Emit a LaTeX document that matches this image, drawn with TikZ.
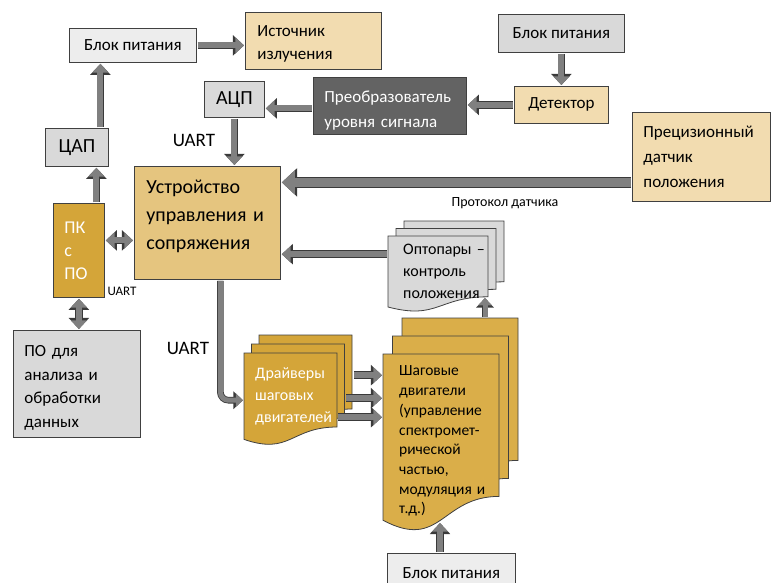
\documentclass[tikz,border=0pt]{standalone}
\usepackage{fontspec}
\setmainfont{Carlito}
\usetikzlibrary{arrows.meta}

\definecolor{boxline}{HTML}{404040}
\definecolor{grayA}{HTML}{EDEDED}
\definecolor{grayB}{HTML}{D9D9D9}
\definecolor{darkbox}{HTML}{636363}
\definecolor{sand}{HTML}{F2DCB0}
\definecolor{devcol}{HTML}{E5C57F}
\definecolor{gold}{HTML}{D4A539}
\definecolor{goldB}{HTML}{DAAE49}
\definecolor{arrfill}{HTML}{808080}
\definecolor{arrline}{HTML}{3A3A3A}

\tikzset{
  box/.style={draw=boxline, line width=0.8pt, inner ysep=0pt, align=left, anchor=north west},
  fs/.style 2 args={font=\fontsize{#1}{#2}\selectfont},
  blk/.style={draw=arrfill, line width=#1, >={Triangle[length=0pt 1.45, width=0pt 2.6]},
    shorten <=1pt, shorten >=1pt,
    preaction={draw=arrline, line width=#1+1.6pt}},
  blk/.default=6pt,
}

% one page of a document shape: x, y, width, height, fill
\newcommand{\docpage}[5]{%
  \filldraw[fill=#5, draw=boxline, line width=0.8pt]
    (#1,#2) -- ({#1+#3},#2) -- ({#1+#3},{#2+0.8*#4})
    .. controls ({#1+0.5*#3},{#2+0.8*#4}) and ({#1+0.5*#3},{#2+1.107*#4}) ..
    (#1,{#2+0.934*#4}) -- cycle;}
% three stacked pages: x, y, width, height, dx, dy, fill
\newcommand{\multidoc}[7]{%
  \docpage{#1+2*#5}{#2-2*#6}{#3}{#4}{#7}
  \docpage{#1+#5}{#2-#6}{#3}{#4}{#7}
  \docpage{#1}{#2}{#3}{#4}{#7}}

\begin{document}
\begin{tikzpicture}[x=1pt, y=-1pt]
  \useasboundingbox (0,0) rectangle (771,582);
  \fill[white] (0,0) rectangle (771,582);
  \clip (0,0) rectangle (771,582);

  % top row
  \node[box, fill=grayA, minimum width=127, minimum height=34, align=center, fs={17}{20}] (bpA) at (69,28) {Блок питания};
  \node[box, fill=sand, minimum width=136, minimum height=57, text width=112, inner xsep=12, fs={17}{23}] (src) at (245,12) {\rule{0pt}{17pt}Источник\\излучения};
  \node[box, fill=grayB, minimum width=126, minimum height=38, align=center, fs={17}{20}] (bpB) at (498,14) {Блок питания};
  \node[box, fill=grayB, minimum width=60, minimum height=36, align=center, fs={20}{24}] (adc) at (204,81) {АЦП};
  \node[box, fill=darkbox, text=white, minimum width=153, minimum height=57, text width=131, inner xsep=11, fs={17}{25}] (conv) at (313,77) {\rule{0pt}{21pt}Преобразователь\\уровня сигнала};
  \node[box, fill=sand, minimum width=94, minimum height=37, align=center, fs={17}{20}] (det) at (514,86) {Детектор};

  % middle
  \node[box, fill=grayB, minimum width=63, minimum height=38, align=center, fs={20}{24}] (dac) at (45,128) {ЦАП};
  \node[box, fill=devcol, minimum width=146, minimum height=113, text width=122, inner xsep=12, fs={20}{28}] (dev) at (134,166) {Устройство\\управления и\\сопряжения\rule[-17pt]{0pt}{0pt}};
  \node[box, fill=sand, minimum width=138, minimum height=89, text width=116, inner xsep=11, fs={17}{25}] (sens) at (632,112) {Прецизионный\\датчик\\положения};
  \node[box, fill=gold, text=white, minimum width=51, minimum height=94, text width=29, inner xsep=11, fs={18}{23}] (pc) at (53,203) {ПК\\с\\ПО};
  \node[box, fill=grayB, minimum width=127, minimum height=107, text width=105, inner xsep=11, fs={17}{23.7}] (sw) at (13,330) {\rule{0pt}{19pt}ПО для\\анализа и\\обработки\\данных};

  % stacked documents
  \multidoc{388}{236}{100}{76}{8}{7.5}{grayB}
  \node[anchor=north west, minimum width=100, minimum height=71, text width=95, inner xsep=15, inner ysep=0, align=left, fs={16}{22}] (opt) at (388,236) {\mbox{Оптопары –}\\контроль\\положения};
  \multidoc{244}{353}{93}{92.5}{7.5}{9}{gold}
  \node[anchor=north west, text=white, minimum width=93, minimum height=87, text width=71, inner xsep=11, inner ysep=0, align=left, fs={16}{22}] (drv) at (244,353) {Драйверы\\шаговых\\двигателей};
  \multidoc{383}{354}{116}{178}{9.5}{18}{goldB}
  \node[anchor=north west, minimum width=116, minimum height=166, text width=96, inner xsep=16, inner ysep=0, align=left, fs={15.5}{19.7}] (mot) at (383,354) {\rule{0pt}{18pt}Шаговые\\двигатели\\(управление\\спектромет-\\рической\\частью,\\\mbox{модуляция и}\\т.д.)};

  \node[box, fill=grayA, minimum width=128, minimum height=40, align=center, fs={17}{20}] (bpC) at (387,553) {Блок питания};

  % labels
  \node[fs={19}{22}] (uartA) at (194,140) {UART};
  \node[fs={19}{22}] (uartB) at (188,348) {UART};
  \node[fs={13}{15}] (uartC) at (122,291) {UART};
  \node[fs={14}{16}] (proto) at (505,203) {Протокол датчика};

  % arrows
  \coordinate (motT) at (485,318);
  \coordinate (optB) at (485,297);
  \coordinate (motB) at (440,522);
  \draw[blk, ->] (bpA.east) -- (bpA.east -| src.west);
  \draw[blk, ->] (bpB) -- (det);
  \draw[blk, ->] (det.west) -- (det.west -| conv.east);
  \draw[blk, ->] ([yshift=-2.5]conv.west) -- ([yshift=-2.5]conv.west -| adc.east);
  \draw[blk, ->] (adc.south) -- (adc.south |- dev.north);
  \draw[blk, ->] ([xshift=23.5]dac.north) -- ([xshift=23.5]dac.north |- bpA.south);
  \draw[blk, ->] ([xshift=17.5]pc.north) -- ([xshift=17.5]pc.north |- dac.south);
  \draw[blk=9pt, ->] ([yshift=-25.5]sens.west) -- ([yshift=-25.5]sens.west -| dev.east);
  \draw[blk, <->] ([yshift=-17.5]dev.west) -- ([yshift=-17.5]dev.west -| pc.east);
  \draw[blk, <->] (pc.south) -- (pc.south |- sw.north);
  \draw[blk, ->] ([yshift=17.5]opt.west) -- ([yshift=17.5]opt.west -| dev.east);
  \draw[blk=5pt, ->, rounded corners=8] ([xshift=13]dev.south) |- ([yshift=-3.5]drv.west);
  \foreach \dx/\dy in {16/21.5, 8/-1.5, 0/-20.5}
    \draw[blk, ->] ([xshift=\dx, yshift=\dy]drv.east) -- ([yshift=\dy]drv.east -| mot.west);
  \draw[blk=5pt, ->] (motT) -- (optB);
  \draw[blk, ->] (bpC.north -| motB) -- (motB);
\end{tikzpicture}
\end{document}
